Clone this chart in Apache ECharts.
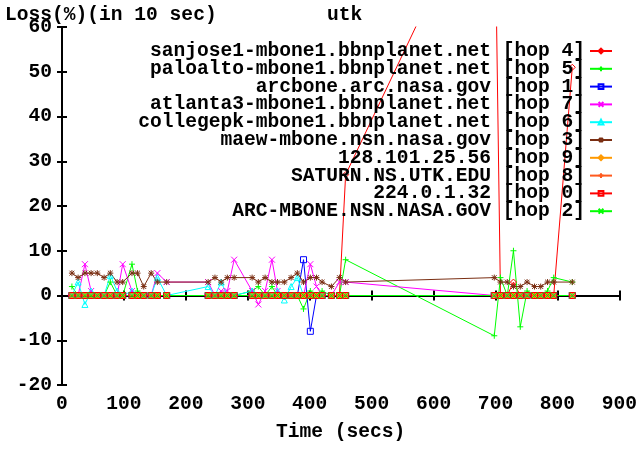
<!DOCTYPE html>
<html><head><meta charset="utf-8">
<script src="https://cdn.jsdelivr.net/npm/echarts@6/dist/echarts.min.js"></script>
<style>html,body{margin:0;padding:0;background:#fff}#c{width:640px;height:450px}</style>
</head><body><div id="c"></div>
<script>
// ---- data ----
var times = [16,26,37,47,57,68,78,89,98,113,122,132,144,154,169,
  236,247,257,267,278,
  307,317,328,339,348,359,370,380,390,401,411,420,435,448,458,
  698,708,719,729,740,751,763,773,784,794,824];
var hosts = ['sanjose1-mbone1.bbnplanet.net','paloalto-mbone1.bbnplanet.net','arcbone.arc.nasa.gov',
  'atlanta3-mbone1.bbnplanet.net','collegepk-mbone1.bbnplanet.net','maew-mbone.nsn.nasa.gov',
  '128.101.25.56','SATURN.NS.UTK.EDU','224.0.1.32','ARC-MBONE.NSN.NASA.GOV'];
var hops = [4,5,1,7,6,3,9,8,0,2];
var lossHop4 = [0,0,0,0,0,0,0,0,0,0,0,0,0,0,0, 0,0,0,0,0, 0,0,0,0,0,0,0,0,0,0,0,0,0,0,27, 97,0,0,3,0,0,0,0,0,0,51];
var lossHop5 = [2,0,0,0,0,0,3,0,0,7,1,0,0,0,0, 0,0,0,0,0, 1,2,0,2,0,0,0,0,-3,1,0,1,0,0,8, -9,4,0,10,-7,1,0,0,1,4,3];
var lossHop1 = [0,0,0,0,0,0,0,0,0,0,0,0,0,0,0, 0,0,0,0,0, 0,0,0,0,0,0,0,0,8,-8,0,0,0,0,0, 0,0,0,0,0,0,0,0,0,0,0];
var lossHop7 = [0,0,7,1,0,0,0,0,7,1,0,0,0,5,3, 3,0,1,1,8, 1,-2,1,8,1,0,0,0,0,7,2,0,0,3,3, 0,0,0,0,0,0,0,0,0,0,0];
var lossHop6 = [0,3,-2,1,0,0,4.5,1,0,1,0,0,0,4,0, 2,0,3,0,0, 1,0,0,0,1,-1,2,4,0,0,0,0,0,0,0, 0,0,0,0,0,0,0,0,0,0,0];
var lossHop3 = [5,4,5,5,5,4,5,3,3,5,5,2,5,3,3, 3,4,3,4,4, 4,3,4,3,3,3,4,5,3,4,4,3,2,4,3, 4,3,3,2,2,3,2,2,3,3,3];
var lossHop9 = [0,0,0,0,0,0,0,0,0,0,0,0,0,0,0, 0,0,0,0,0, 0,0,0,0,0,0,0,0,0,0,0,0,0,0,0, 0,0,0,0,0,0,0,0,0,0,0];
var lossHop8 = [0,0,0,0,0,0,0,0,0,0,0,0,0,0,0, 0,0,0,0,0, 0,0,0,0,0,0,0,0,0,0,0,0,0,0,0, 0,0,0,0,0,0,0,0,0,0,0];
var lossHop0 = [0,0,0,0,0,0,0,0,0,0,0,0,0,0,0, 0,0,0,0,0, 0,0,0,0,0,0,0,0,0,0,0,0,0,0,0, 0,0,0,0,0,0,0,0,0,0,0];
var lossHop2 = [0,0,0,0,0,0,0,0,0,0,0,0,0,0,0, 0,0,0,0,0, 0,0,0,0,0,0,0,0,0,0,0,0,0,0,0, 0,0,0,0,0,0,0,0,0,0,0];
var xTicks = [0,100,200,300,400,500,600,700,800,900];
var yTicks = [-20,-10,0,10,20,30,40,50,60];

// ---- styles ----
var seriesValues = [lossHop4,lossHop5,lossHop1,lossHop7,lossHop6,lossHop3,lossHop9,lossHop8,lossHop0,lossHop2];
var colors = ['#ff0000','#00ff00','#0000ff','#ff00ff','#00ffff','#7a2e12','#ff9900','#ff5a1e','#ff0000','#00ff00'];
var SYM = {
  diamond:'path://M5,0L10,5L5,10L0,5Z',
  plus:'path://M0,5L10,5M5,0L5,10',
  box:'path://M0,0L10,0L10,10L0,10Z',
  cross:'path://M0,0L10,10M0,10L10,0',
  tri:'path://M5,0L10,9L0,9Z',
  star:'path://M0,5L10,5M5,0L5,10M1,1L9,9M1,9L9,1'
};
var symbols = [SYM.diamond,SYM.plus,SYM.box,SYM.cross,SYM.tri,SYM.star,SYM.diamond,SYM.plus,SYM.box,SYM.cross];
var FONT = 'Liberation Mono';

var series = [{
  name:'zero', type:'line', data:[[0,0],[900,0]], symbol:'none', silent:true,
  lineStyle:{color:'#000', width:1, type:[1,9]}, z:1
}];
hosts.forEach(function(h,i){
  series.push({
    name:h, type:'line', z:2,
    data: times.map(function(t,k){return [t, seriesValues[i][k]];}),
    symbol: symbols[i], symbolSize: 6, showSymbol:true, showAllSymbol:true,
    lineStyle:{color:colors[i], width:1},
    itemStyle:{color:'none', borderColor:colors[i], borderWidth:1}
  });
});

var chart = echarts.init(document.getElementById('c'), null, {renderer:'canvas'});
var FS = 19.6;
var txt = {fontFamily:FONT, fontWeight:'bold', fontSize:FS, color:'#000'};
chart.setOption({
  animation:false,
  backgroundColor:'#fff',
  title:[
    {text:'Loss(%)(in 10 sec)', left:0, top:0, textStyle:txt},
    {text:'utk', left:322, top:0, textStyle:txt}
  ],
  grid:{left:62, right:16, top:27, bottom:65},
  legend:{
    orient:'vertical', right:27, top:41, align:'right', itemGap:-2.2, padding:0,
    itemWidth:22, itemHeight:6,
    data: hosts,
    formatter:function(n){ var i = hosts.indexOf(n); return '{t|'+n+' [hop '+hops[i]+']}'; },
    textStyle:{fontFamily:FONT, fontWeight:'bold', fontSize:FS, color:'#000', lineHeight:17.8,
      rich:{t:{width:450, height:17.8, align:'right', fontFamily:FONT, fontWeight:'bold', fontSize:FS, lineHeight:17.8, color:'#000'}}}
  },
  xAxis:[{
    type:'value', min:0, max:900, interval:100,
    name:'Time (secs)', nameLocation:'middle', nameGap:37,
    nameTextStyle:txt,
    axisLine:{show:true, lineStyle:{color:'#000', width:2}},
    axisTick:{show:true, inside:true, length:5, lineStyle:{color:'#000', width:2}},
    axisLabel:Object.assign({margin:9, formatter:function(v){return xTicks.indexOf(v)>=0? String(v):'';}}, txt),
    splitLine:{show:false}
  },{
    type:'value', min:0, max:900, interval:100, position:'top',
    axisLine:{show:true, lineStyle:{color:'#000', width:2}},
    axisTick:{show:true, inside:true, length:5, lineStyle:{color:'#000', width:2}},
    axisLabel:{show:false}, splitLine:{show:false}
  }],
  yAxis:[{
    type:'value', min:-20, max:60, interval:10,
    axisLine:{show:true, lineStyle:{color:'#000', width:2}},
    axisTick:{show:true, inside:true, length:5, lineStyle:{color:'#000', width:2}},
    axisLabel:Object.assign({margin:10, formatter:function(v){return yTicks.indexOf(v)>=0? String(v):'';}}, txt),
    splitLine:{show:false}
  },{
    type:'value', min:-20, max:60, interval:10, position:'right',
    axisLine:{show:true, lineStyle:{color:'#000', width:2}},
    axisTick:{show:true, inside:true, length:5, lineStyle:{color:'#000', width:2}},
    axisLabel:{show:false}, splitLine:{show:false}
  }],
  series: series
});
</script></body></html>
